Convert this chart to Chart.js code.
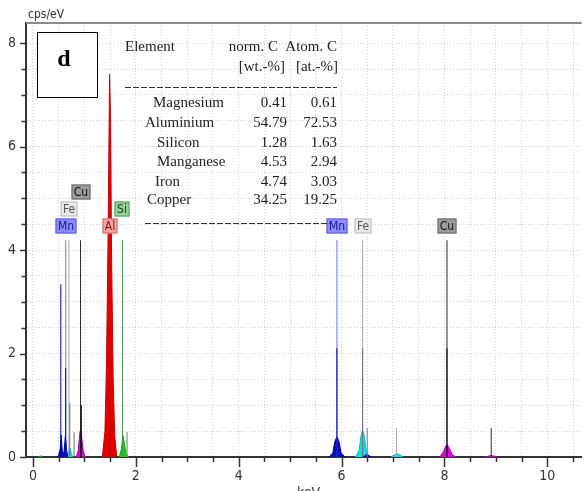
<!DOCTYPE html>
<html>
<head>
<meta charset="utf-8">
<script src="https://cdn.jsdelivr.net/npm/chart.js@4.4.0/dist/chart.umd.min.js"></script>
<style>
  html, body { margin: 0; padding: 0; background: #fff; }
  #wrap { width: 584px; height: 491px; }
</style>
</head>
<body>
<div id="wrap"><canvas id="chart" width="584" height="491"></canvas></div>
<script>
// axis ranges and labelled ticks
const xRange = [-0.135, 10.668];
const yRange = [0, 8.39];
const xTickLabels = [0, 2, 4, 6, 8, 10];
const yTickLabels = [0, 2, 4, 6, 8];

// spectrum peaks per element: [keV, cps/eV]
const cPeaks = [[[0.10, 0], [0.15, 0.02], [0.20, 0]]];
const mnPeaks = [
    [[0.49, 0], [0.53, 0.15], [0.55, 0.42], [0.57, 0.12], [0.60, 0.05], [0.63, 0.40], [0.66, 0.10], [0.68, 0]],
    [[5.76, 0], [5.83, 0.08], [5.87, 0.30], [5.91, 0.39], [5.95, 0.30], [5.99, 0.08], [6.07, 0]],
    [[6.42, 0], [6.49, 0.05], [6.58, 0]]
];
const fePeaks = [
    [[0.66, 0], [0.70, 0.12], [0.72, 0.17], [0.75, 0.05], [0.78, 0]],
    [[6.27, 0], [6.34, 0.12], [6.38, 0.42], [6.41, 0.52], [6.44, 0.42], [6.48, 0.12], [6.54, 0]],
    [[6.96, 0], [7.04, 0.05], [7.08, 0.06], [7.12, 0.05], [7.20, 0]]
];
const cuPeaks = [
    [[0.84, 0], [0.88, 0.12], [0.91, 0.45], [0.93, 0.55], [0.95, 0.35], [0.98, 0.10], [1.02, 0]],
    [[7.91, 0], [7.98, 0.10], [8.03, 0.22], [8.06, 0.23], [8.10, 0.16], [8.15, 0.05], [8.22, 0]],
    [[8.80, 0], [8.90, 0.03], [9.05, 0]]
];
const alPeaks = [
    [[1.35, 0], [1.40, 0.5], [1.43, 1.8], [1.46, 4.2], [1.49, 7.4], [1.51, 6.5], [1.53, 3.8], [1.56, 1.5], [1.59, 0.4], [1.63, 0]]
];
const siPeaks = [
    [[1.68, 0], [1.72, 0.15], [1.75, 0.42], [1.78, 0.25], [1.81, 0.05], [1.86, 0]]
];

// element line markers: [keV, height]
const mnLines = [[0.637, 4.19], [5.91, 4.19], [6.50, 0.56]];
const mnLinesLow = [[0.542, 3.34], [0.637, 1.72], [5.91, 2.10]];
const feLines = [[0.70, 4.19], [6.41, 4.19], [7.07, 0.56]];
const feLinesLow = [[0.716, 1.04], [0.80, 0.48], [6.41, 2.10]];
const cuLines = [[0.925, 4.19], [8.05, 4.19], [8.91, 0.56]];
const cuLinesLow = [[0.94, 1.0], [8.05, 2.10]];
const alLines = [[1.49, 4.19]];
const siLines = [[1.74, 4.19], [1.83, 0.48]];

// line label tags
const tagNames = ['Mn', 'Fe', 'Cu', 'Al', 'Si', 'Mn', 'Fe', 'Cu'];
const tagKeV = [0.637, 0.70, 0.93, 1.49, 1.74, 5.91, 6.41, 8.05];

// quantification table
const tableElements = ['Magnesium', 'Aluminium', 'Silicon', 'Manganese', 'Iron', 'Copper'];
const tableWt = ['0.41', '54.79', '1.28', '4.53', '4.74', '34.25'];
const tableAt = ['0.61', '72.53', '1.63', '2.94', '3.03', '19.25'];

const tickFont = '"Liberation Sans Narrow", "DejaVu Sans Condensed", "Arial Narrow", sans-serif';

function toPoints(peaks) {
    const pts = [];
    peaks.forEach((peak, i) => {
        if (i > 0) pts.push({ x: peak[0][0], y: null });
        peak.forEach(p => pts.push({ x: p[0], y: p[1] }));
    });
    return pts;
}

function toSticks(lines) {
    const pts = [];
    lines.forEach(([e, h]) => {
        pts.push({ x: e, y: 0 }, { x: e, y: h }, { x: e, y: null });
    });
    return pts;
}

function stick(lines, color) {
    return { data: toSticks(lines), borderColor: color, borderWidth: 1, pointRadius: 0, fill: false, spanGaps: false };
}

function peak(peaks, color, edge) {
    return { data: toPoints(peaks), borderColor: edge, backgroundColor: color, borderWidth: 1, pointRadius: 0, fill: 'origin', spanGaps: false };
}

// tag styles
const tagStyles = {
    Mn: { bg: '#8c8cff', edge: '#5a5ae0', text: '#1a1a80' },
    Fe: { bg: '#e8e8e8', edge: '#bdbdbd', text: '#555555' },
    Cu: { bg: '#9a9a9a', edge: '#6a6a6a', text: '#111111' },
    Al: { bg: '#f5a3a3', edge: '#d36a6a', text: '#7a1010' },
    Si: { bg: '#92d292', edge: '#5e9e5e', text: '#1a4a1a' }
};
const tagRows = [0, 1, 2, 0, 1, 0, 0, 0];
const rowOffsets = [14.5, 31, 48.5];

const decorPlugin = {
    id: 'decor',
    afterDraw(chart) {
        const ctx = chart.ctx;
        const xs = chart.scales.x;
        const ys = chart.scales.y;
        const area = chart.chartArea;
        ctx.save();

        // top frame line
        ctx.strokeStyle = '#8a8a8a';
        ctx.lineWidth = 2;
        ctx.beginPath();
        ctx.moveTo(area.left, area.top);
        ctx.lineTo(area.right, area.top);
        ctx.stroke();

        // tick marks
        ctx.strokeStyle = '#333';
        ctx.lineWidth = 1.5;
        for (let v = 0; v <= 10.5; v += 0.5) {
            const px = Math.round(xs.getPixelForValue(v)) + 0.5;
            const len = xTickLabels.includes(v) ? 10 : 5;
            ctx.beginPath();
            ctx.moveTo(px, area.bottom);
            ctx.lineTo(px, area.bottom + len);
            ctx.stroke();
        }
        for (let v = 0; v <= 8; v += 0.5) {
            const py = Math.round(ys.getPixelForValue(v)) + 0.5;
            const len = yTickLabels.includes(v) ? 6 : 4.5;
            ctx.beginPath();
            ctx.moveTo(area.left - len, py);
            ctx.lineTo(area.left, py);
            ctx.stroke();
        }

        // axis captions
        ctx.fillStyle = '#333';
        ctx.font = '12px ' + tickFont;
        ctx.textBaseline = 'middle';
        ctx.textAlign = 'left';
        ctx.fillText('cps/eV', 28, 15);
        ctx.font = '14px ' + tickFont;
        ctx.textBaseline = 'top';
        ctx.fillText('keV', 297, 486);

        // element tags
        ctx.font = '12px ' + tickFont;
        ctx.textAlign = 'center';
        ctx.textBaseline = 'middle';
        const topPx = ys.getPixelForValue(4.19);
        tagNames.forEach((name, i) => {
            const st = tagStyles[name];
            const cx = Math.round(xs.getPixelForValue(tagKeV[i]));
            const cy = Math.round(topPx - rowOffsets[tagRows[i]]);
            const w = Math.round(ctx.measureText(name).width) + 5;
            ctx.fillStyle = st.bg;
            ctx.fillRect(cx - w / 2, cy - 7.5, w, 15);
            ctx.strokeStyle = st.edge;
            ctx.lineWidth = 1;
            ctx.strokeRect(cx - w / 2 + 0.5, cy - 7, w - 1, 14);
            ctx.fillStyle = st.text;
            ctx.fillText(name, cx, cy + 0.5);
        });

        // "d" panel box
        ctx.fillStyle = '#fff';
        ctx.fillRect(37, 32, 61, 66);
        ctx.strokeStyle = '#000';
        ctx.lineWidth = 1;
        ctx.strokeRect(37.5, 32.5, 60, 65);
        ctx.fillStyle = '#000';
        ctx.font = 'bold 24px "Liberation Serif", serif';
        ctx.textAlign = 'center';
        ctx.fillText('d', 64, 60);

        // quantification table
        ctx.fillStyle = '#222';
        ctx.font = '15px "Liberation Serif", serif';
        ctx.textAlign = 'left';
        ctx.fillText('Element', 125, 47);
        ctx.textAlign = 'right';
        ctx.fillText('norm. C', 278, 47);
        ctx.fillText('Atom. C', 337, 47);
        ctx.fillText('[wt.-%]', 285, 67);
        ctx.fillText('[at.-%]', 338, 67);
        const rowY = [103, 123, 143, 162, 182, 200];
        const nameX = [153, 145, 157, 157, 155, 147];
        tableElements.forEach((name, i) => {
            ctx.textAlign = 'left';
            ctx.fillText(name, nameX[i], rowY[i]);
            ctx.textAlign = 'right';
            ctx.fillText(tableWt[i], 287, rowY[i]);
            ctx.fillText(tableAt[i], 337, rowY[i]);
        });
        ctx.strokeStyle = '#333';
        ctx.setLineDash([6, 2]);
        ctx.beginPath();
        ctx.moveTo(125, 87.5);
        ctx.lineTo(337, 87.5);
        ctx.moveTo(145, 223.5);
        ctx.lineTo(330, 223.5);
        ctx.stroke();
        ctx.restore();
    }
};

const ctx = document.getElementById('chart').getContext('2d');
new Chart(ctx, {
    type: 'line',
    data: {
        datasets: [
            stick(mnLinesLow, '#0000a8'),
            stick(feLinesLow, '#6e6e6e'),
            stick(cuLinesLow, '#000000'),
            stick(mnLines, '#6f6fff'),
            stick(feLines, '#a8a8a8'),
            stick(cuLines, '#2a2a2a'),
            stick(siLines, '#4f8f4f'),
            stick(alLines, '#cc0000'),
            peak(alPeaks, '#e00000', '#c80000'),
            peak(siPeaks, '#00dd00', '#00b000'),
            peak(mnPeaks, '#0010c0', '#000090'),
            peak(fePeaks, '#00e0e8', '#00c0c8'),
            peak(cuPeaks, '#e000e0', '#b000b0'),
            peak(cPeaks, '#00cc00', '#00aa00')
        ]
    },
    options: {
        responsive: false,
        animation: false,
        events: [],
        layout: { padding: { top: 23, left: 0, right: 0, bottom: 0 } },
        plugins: { legend: { display: false }, tooltip: { enabled: false } },
        elements: { line: { tension: 0 } },
        scales: {
            x: {
                type: 'linear',
                min: xRange[0],
                max: xRange[1],
                afterFit: s => { s.height = 34; },
                grid: { color: '#d4d4d4', lineWidth: 1, drawTicks: false },
                border: { display: true, color: '#333', width: 2, dash: [1, 2] },
                ticks: {
                    stepSize: 0.5,
                    includeBounds: false,
                    autoSkip: false,
                    maxRotation: 0,
                    padding: 11,
                    color: '#333',
                    font: { family: tickFont, size: 14 },
                    callback: v => xTickLabels.includes(v) ? String(v) : ''
                }
            },
            y: {
                min: yRange[0],
                max: yRange[1],
                afterFit: s => { s.width = 26; },
                grid: { color: '#d4d4d4', lineWidth: 1, drawTicks: false },
                border: { display: true, color: '#333', width: 2, dash: [1, 2] },
                ticks: {
                    stepSize: 0.5,
                    includeBounds: false,
                    autoSkip: false,
                    padding: 10,
                    color: '#333',
                    font: { family: tickFont, size: 14 },
                    callback: v => yTickLabels.includes(v) ? String(v) : ''
                }
            }
        }
    },
    plugins: [decorPlugin]
});
</script>
</body>
</html>
